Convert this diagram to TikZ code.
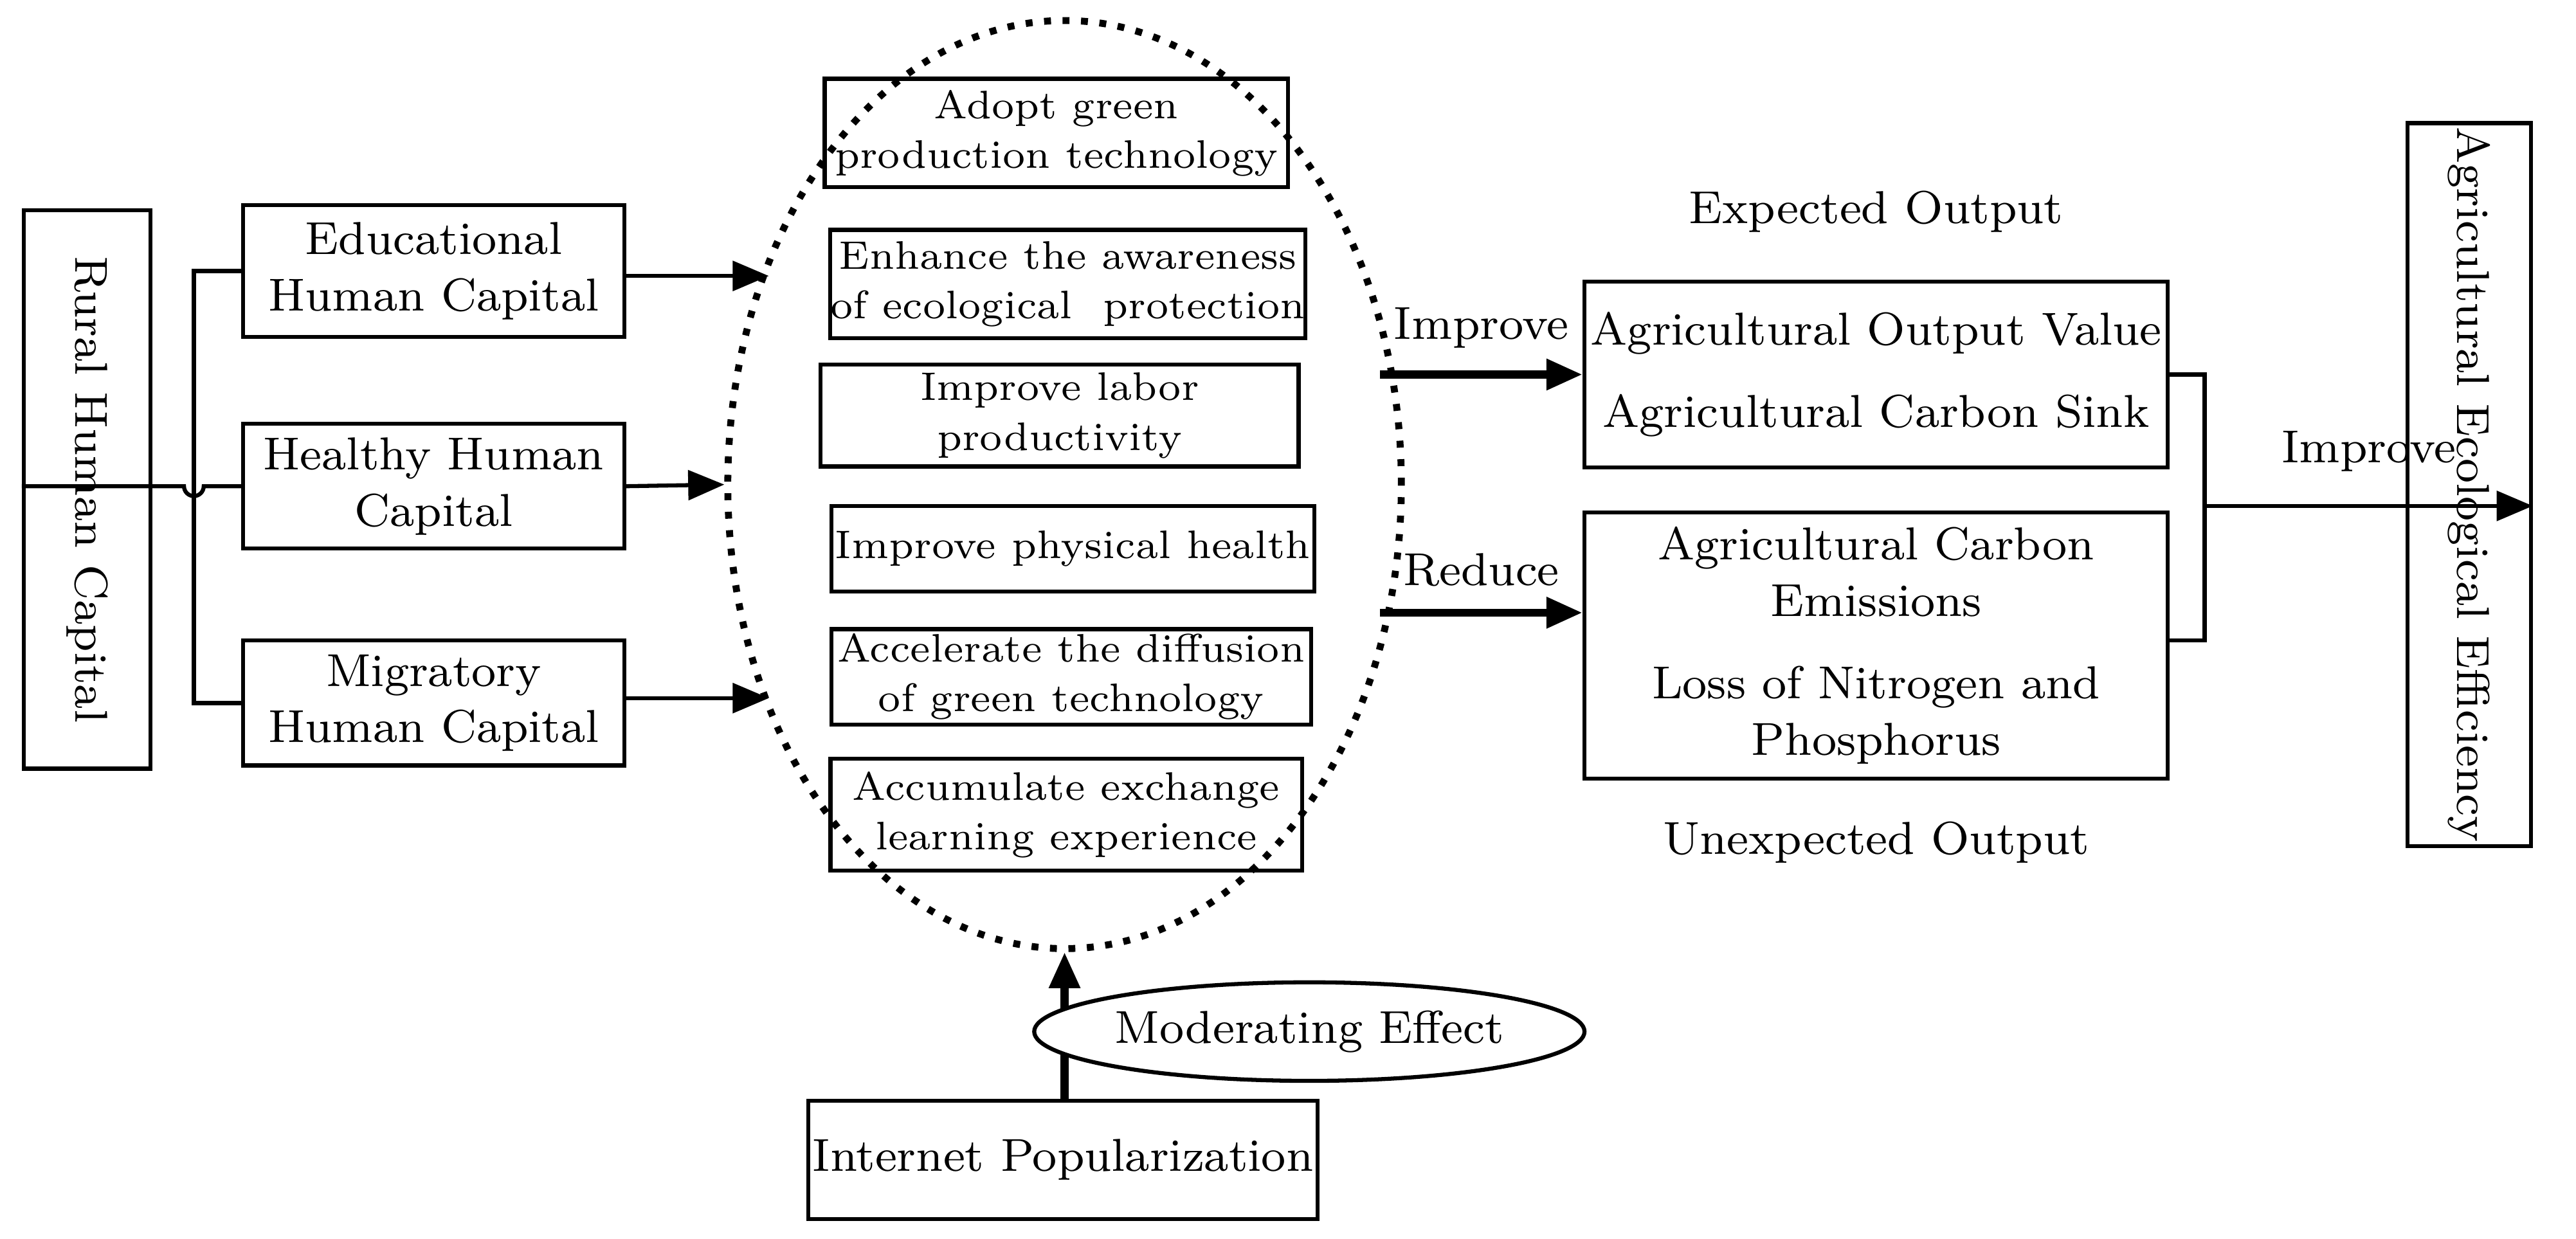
\documentclass[tikz,border=0pt]{standalone}
\usepackage{tikz}
\usetikzlibrary{arrows.meta,positioning,shapes.geometric}
\tikzset{every picture/.style={
  >={Triangle[length=2.2mm,width=1.8mm]}   % filled arrows
  }
}
\begin{document}
\begin{tikzpicture}[
    x=0.1mm,y=-0.1mm,
    line width=0.7pt,
    capbox/.style={
      rectangle,
      draw,
      align=center,
      font=\fontsize{8}{9.8}\selectfont,
      inner sep=0pt
    },
    waybox/.style={
      rectangle,
      draw,
      align=center,
      font=\fontsize{6.9}{8.6}\selectfont,
      inner sep=0pt
    },
    lbl/.style={font=\fontsize{8}{9.8}\selectfont}]

    \useasboundingbox (0,0) rectangle (1568,754);

    % Left side: the three kinds of capital.
    \node[capbox,minimum width=34mm,minimum height=7.7mm,rotate=-90] (rural) at (53,298)
      {Rural Human Capital};
    \node[capbox,minimum width=23.2mm,minimum height=8mm] (edu) at (264,165)
      {Educational\\Human Capital};
    \node[capbox,minimum width=23.2mm,minimum height=7.6mm] (hea) at (264,296)
      {Healthy Human\\Capital};
    \node[capbox,minimum width=23.2mm,minimum height=7.6mm] (mig) at (264,428)
      {Migratory\\Human Capital};

    \coordinate (bt) at (118,165);
    \coordinate (bb) at (118,428);
    \draw (bt -| edu.west) -- (bt) -- (bb) -- (bb -| mig.west);
    \draw (rural.south |- 0,296) -- (112,296) arc[start angle=180,end angle=0,radius=6] -- (hea.west);

    % Channels inside the dotted ellipse.
    \node[draw,dotted,line width=1.2pt,ellipse,minimum width=41mm,minimum height=56.5mm] (chan) at (648,295) {};
    \node[waybox,minimum width=28.2mm,minimum height=6.6mm] (w1) at (643,81)
      {Adopt green\\production technology};
    \node[waybox,minimum width=28.9mm,minimum height=6.6mm] (w2) at (650,173)
      {Enhance the awareness\\of ecological\ \ protection};
    \node[waybox,minimum width=29.1mm,minimum height=6.2mm] (w3) at (645,253)
      {Improve labor\\productivity};
    \node[waybox,minimum width=29.4mm,minimum height=5.2mm] (w4) at (653,334)
      {Improve physical health};
    \node[waybox,minimum width=29.2mm,minimum height=5.8mm] (w5) at (652,412)
      {Accelerate the diffusion\\of green technology};
    \node[waybox,minimum width=28.7mm,minimum height=6.8mm] (w6) at (649,496)
      {Accumulate exchange\\learning experience};

    \draw[->] (edu.east |- 0,168) -- (468,168);
    \draw[->] (hea.east) -- (chan.west);
    \draw[->] (mig.east |- 0,425) -- (468,425);

    % Moderator.
    \node[capbox,minimum width=31mm,minimum height=7.2mm] (net) at (647,706)
      {Internet Popularization};
    \draw[->,line width=1.4pt] (net.north -| chan.south) -- (chan.south);
    \node[draw,ellipse,lbl,inner sep=0pt,minimum width=31.4mm,minimum height=6mm,fill=white] (mod) at (797,628)
      {Moderating Effect};

    % Outputs.
    \node[capbox,minimum width=35.5mm,minimum height=11.3mm] (exp) at (1142,228)
      {Agricultural Output Value\\[1.3ex]Agricultural Carbon Sink};
    \node[capbox,minimum width=35.5mm,minimum height=16.2mm] (unexp) at (1142,393)
      {Agricultural Carbon\\Emissions\\[1.3ex]Loss of Nitrogen and\\Phosphorus};
    \node[lbl,above=1.6mm of exp] (expl) {Expected Output};
    \node[lbl,below=1.2mm of unexp] (unexpl) {Unexpected Output};

    \draw[->,line width=1.4pt] (840,228) -- (exp.west) node[lbl,midway,above=0.2mm] {Improve};
    \draw[->,line width=1.4pt] (840,373) -- (unexp.west |- 0,373) node[lbl,midway,above=0.2mm] {Reduce};

    % Efficiency.
    \node[capbox,minimum width=44mm,minimum height=7.5mm,rotate=-90] (eff) at (1503,295)
      {Agricultural Ecological Efficiency};
    \draw (exp.east) -- (1342,228) -- (1342,390) -- (unexp.east |- 0,390);
    \draw[->] (1342,308) -- (eff.north |- 0,308) node[lbl,midway,above=0.8mm] {Improve};
  \end{tikzpicture}
\end{document}
